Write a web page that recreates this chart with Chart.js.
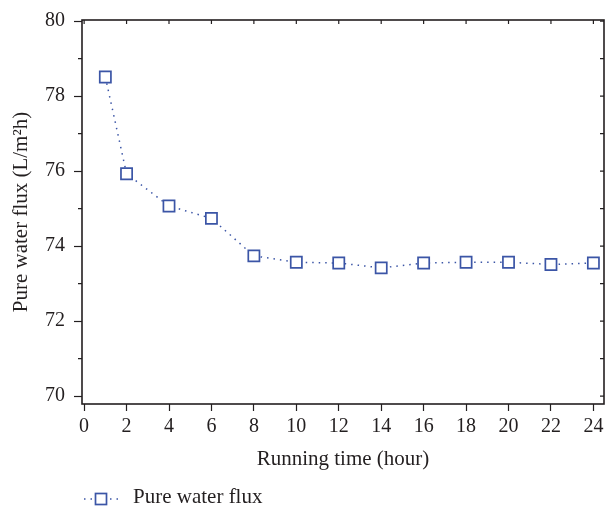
<!DOCTYPE html>
<html>
<head>
<meta charset="utf-8">
<script src="https://cdn.jsdelivr.net/npm/chart.js@4"></script>
<style>
  html, body { margin: 0; padding: 0; background: #fff; }
  #wrap { width: 607px; height: 507px; }
</style>
</head>
<body>
<div id="wrap"><canvas id="fluxChart" width="607" height="507"></canvas></div>
<script>
const hours = [1, 2, 4, 6, 8, 10, 12, 14, 16, 18, 20, 22, 24];
const flux = [78.51, 75.93, 75.07, 74.74, 73.74, 73.57, 73.55, 73.42, 73.55, 73.57, 73.57, 73.51, 73.55];
const xTicks = [0, 2, 4, 6, 8, 10, 12, 14, 16, 18, 20, 22, 24];
const yTicks = [70, 72, 74, 76, 78, 80];
const yMinor = [71, 73, 75, 77, 79];

const ink = "#231f20";
const blue = "#3b55a6";
const serif = "'Liberation Serif', 'DejaVu Serif', serif";

// box frame, inner ticks on top/right, minor ticks left, and the legend
const frameTicks = {
  id: "frameTicks",
  afterDraw(chart) {
    const ctx = chart.ctx;
    const a = chart.chartArea;
    const x = chart.scales.x, y = chart.scales.y;
    ctx.save();
    ctx.strokeStyle = ink;
    ctx.lineWidth = 1.6;
    ctx.strokeRect(a.left, a.top, a.right - a.left, a.bottom - a.top);
    ctx.lineWidth = 1.2;
    ctx.beginPath();
    xTicks.forEach(v => {
      const px = x.getPixelForValue(v);
      ctx.moveTo(px, a.top);
      ctx.lineTo(px, a.top + 4);
    });
    yTicks.concat(yMinor).forEach(v => {
      const py = y.getPixelForValue(v);
      ctx.moveTo(a.right, py);
      ctx.lineTo(a.right - 4, py);
    });
    yMinor.forEach(v => {
      const py = y.getPixelForValue(v);
      ctx.moveTo(a.left, py);
      ctx.lineTo(a.left - 4, py);
    });
    ctx.stroke();

    // legend
    const ds = chart.data.datasets[0];
    const ly = 499;
    ctx.strokeStyle = blue;
    ctx.lineWidth = 1.5;
    ctx.setLineDash([1.5, 5]);
    ctx.beginPath();
    ctx.moveTo(84, ly);
    ctx.lineTo(118, ly);
    ctx.stroke();
    ctx.setLineDash([]);
    ctx.fillStyle = "#fff";
    ctx.lineWidth = 1.7;
    ctx.fillRect(95.5, ly - 5.5, 11, 11);
    ctx.strokeRect(95.5, ly - 5.5, 11, 11);
    ctx.fillStyle = ink;
    ctx.font = "21px " + serif;
    ctx.textBaseline = "middle";
    ctx.textAlign = "left";
    ctx.fillText(ds.label, 133, ly - 2);
    ctx.restore();
  }
};

const ctx = document.getElementById("fluxChart").getContext("2d");
new Chart(ctx, {
  type: "line",
  data: {
    datasets: [{
      label: "Pure water flux",
      data: hours.map((h, i) => ({ x: h, y: flux[i] })),
      borderColor: blue,
      borderWidth: 1.5,
      borderDash: [1.5, 5],
      tension: 0,
      pointStyle: "rect",
      pointRadius: 7.9,
      pointBorderWidth: 1.7,
      pointBorderColor: blue,
      pointBackgroundColor: "#fff"
    }]
  },
  plugins: [frameTicks],
  options: {
    responsive: false,
    animation: false,
    layout: { autoPadding: false, padding: { top: 20, right: 3, bottom: 33, left: 0 } },
    plugins: { legend: { display: false }, tooltip: { enabled: false } },
    scales: {
      x: {
        type: "linear",
        min: -0.1,
        max: 24.5,
        afterBuildTicks: s => { s.ticks = xTicks.map(v => ({ value: v })); },
        afterFit: s => { s.height = 70; s.paddingLeft = 0; s.paddingRight = 0; },
        border: { display: false },
        grid: { drawOnChartArea: false, tickLength: 7, tickColor: ink, tickWidth: 1.2 },
        ticks: { color: ink, font: { family: serif, size: 20 }, padding: 4, maxRotation: 0 },
        title: {
          display: true,
          text: "Running time (hour)",
          color: ink,
          font: { family: serif, size: 21 },
          padding: { top: 0, bottom: 2 }
        }
      },
      y: {
        min: 69.79,
        max: 80.03,
        afterBuildTicks: s => { s.ticks = yTicks.map(v => ({ value: v })); },
        afterFit: s => { s.width = 82; s.paddingTop = 0; s.paddingBottom = 0; },
        border: { display: false },
        grid: { drawOnChartArea: false, tickLength: 8, tickColor: ink, tickWidth: 1.2 },
        ticks: { color: ink, font: { family: serif, size: 20 }, padding: 9 },
        title: {
          display: true,
          text: "Pure water flux (L/m²h)",
          color: ink,
          font: { family: serif, size: 21 },
          padding: { top: 9, bottom: 0 }
        }
      }
    }
  }
});
</script>
</body>
</html>
